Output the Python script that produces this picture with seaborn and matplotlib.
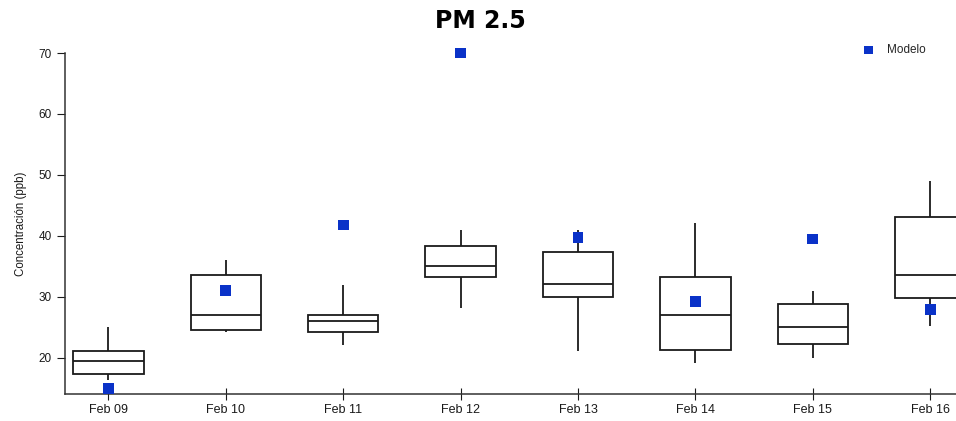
import numpy as np
import pandas as pd
import matplotlib
matplotlib.use("Agg")
import matplotlib.pyplot as plt
import seaborn as sns

days = ['Feb 09', 'Feb 10', 'Feb 11', 'Feb 12', 'Feb 13', 'Feb 14', 'Feb 15', 'Feb 16']
# five-number summary per day: min, q1, median, q3, max
obs_min = [16.3, 24.2, 22.1, 28.2, 21.2, 19.1, 20.0, 25.3]
obs_q1 = [17.3, 24.6, 24.2, 33.3, 30.0, 21.3, 22.3, 29.9]
obs_med = [19.5, 27.1, 26.1, 35.1, 32.1, 27.1, 25.1, 33.6]
obs_q3 = [21.1, 33.6, 27.1, 38.4, 37.4, 33.3, 28.8, 43.1]
obs_max = [25.0, 36.1, 32.0, 41.0, 40.9, 42.1, 31.0, 49.0]
modelo = [15.0, 31.0, 41.8, 70.0, 39.7, 29.2, 39.5, 27.9]

rows = []
for i, d in enumerate(days):
    for v in [obs_min[i], obs_q1[i], obs_med[i], obs_q3[i], obs_max[i]]:
        rows.append({'dia': d, 'conc': v})
df = pd.DataFrame(rows)
df_mod = pd.DataFrame({'dia': days, 'conc': modelo})

sns.set_style("ticks")
plt.rcParams['font.family'] = ['Liberation Sans', 'DejaVu Sans']

fig = plt.figure(figsize=(9.56, 4.21), dpi=100)
ax = fig.add_axes([65/956, (421-394)/421, (956-65)/956, (394-53)/421])

sns.boxplot(data=df, x='dia', y='conc', order=days, ax=ax, color='white',
            linecolor='#1a1a1a', linewidth=1.3, width=0.6, whis=(0, 100),
            showcaps=False, fill=True)
sns.scatterplot(data=df_mod, x='dia', y='conc', ax=ax, marker='s', s=60,
                color='#0a32c8', edgecolor='none', label='Modelo', zorder=5,
                clip_on=False)

ax.set_xlim(-0.37, 7.22)
ax.set_ylim(14.08, 70)
ax.set_yticks([20, 30, 40, 50, 60, 70])
ax.set_xlabel('')
ax.set_ylabel('Concentración (ppb)', fontsize=8.3, color='#1a1a1a', labelpad=8)
ax.tick_params(axis='x', direction='inout', length=8, labelsize=9, colors='#1a1a1a', pad=3)
ax.tick_params(axis='y', direction='out', length=6, labelsize=8.5, colors='#1a1a1a')
for s in ['left', 'bottom']:
    ax.spines[s].set_color('#333333')
    ax.spines[s].set_linewidth(1.1)
sns.despine(ax=ax, top=True, right=True)

leg = ax.legend(loc='center left', bbox_to_anchor=(846/956, 1 - 50/421),
                bbox_transform=fig.transFigure, frameon=False, fontsize=8.5,
                handletextpad=0.6, markerscale=0.8)

fig.text(480/956, 1 - 21/421, 'PM 2.5', ha='center', va='center',
         fontsize=17, fontweight='heavy', family='DejaVu Sans', color='black')

fig.savefig('out.png', dpi=100)
